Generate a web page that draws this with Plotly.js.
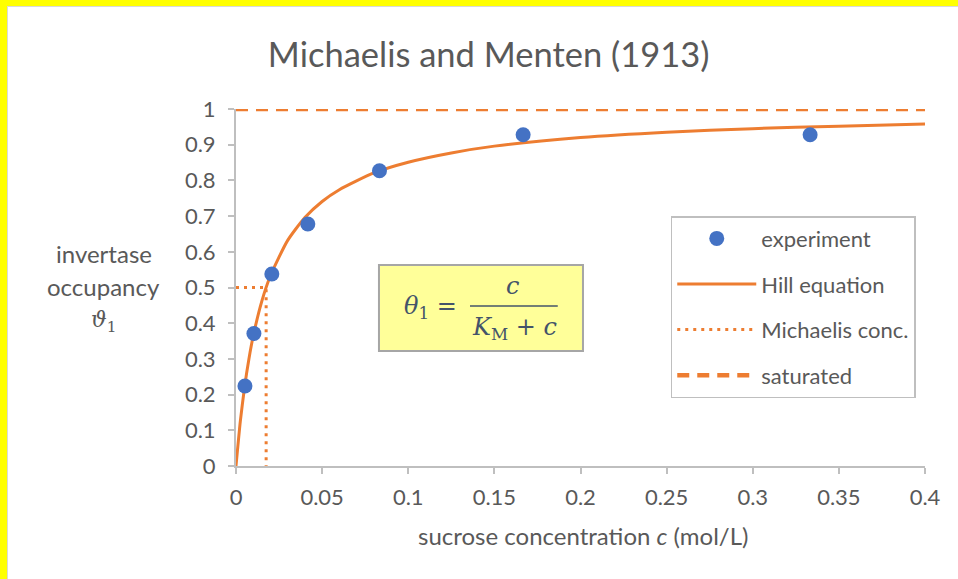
<!DOCTYPE html>
<html>
<head>
<meta charset="utf-8">
<script src="https://cdn.plot.ly/plotly-3.0.1.min.js"></script>
<style>
  html, body { margin: 0; padding: 0; background: #FFFF00; width: 958px; height: 579px; overflow: hidden; }
  #chart { position: absolute; left: 7px; top: 6px; width: 950px; height: 572px; background: #fff;
           border-left: 1px solid #d9d9d9; border-top: 1px solid #d9d9d9; }
</style>
</head>
<body>
<div id="chart"></div>
<script>
// experiment: sucrose concentration (mol/L) and invertase occupancy
const expConc = [0.0052, 0.0104, 0.0208, 0.0417, 0.0833, 0.1667, 0.3333];
const expOcc  = [0.224, 0.371, 0.538, 0.678, 0.827, 0.928, 0.928];

// Hill equation curve
const hillConc = [0, 0.0025, 0.005, 0.0075, 0.01, 0.015, 0.02, 0.03, 0.04, 0.05, 0.06, 0.08, 0.1, 0.125, 0.15, 0.2, 0.25, 0.3, 0.35, 0.4];
const hillOcc  = [0, 0.125, 0.222, 0.300, 0.364, 0.462, 0.533, 0.632, 0.696, 0.741, 0.774, 0.821, 0.851, 0.877, 0.896, 0.920, 0.935, 0.945, 0.952, 0.958];

// Michaelis concentration guide
const michConc = [0, 0.0175, 0.0175];
const michOcc  = [0.5, 0.5, 0];

// saturated level
const satConc = [0, 0.4];
const satOcc  = [1, 1];

const xTicks = [0, 0.05, 0.1, 0.15, 0.2, 0.25, 0.3, 0.35, 0.4];
const xTickText = ['0', '0.05', '0.1', '0.15', '0.2', '0.25', '0.3', '0.35', '0.4'];
const yTicks = [0, 0.1, 0.2, 0.3, 0.4, 0.5, 0.6, 0.7, 0.8, 0.9, 1];
const yTickText = ['0', '0.1', '0.2', '0.3', '0.4', '0.5', '0.6', '0.7', '0.8', '0.9', '1'];

const ORANGE = '#ED7D31';
const BLUE = '#4472C4';
const TEXT = '#595959';
const AXIS = '#BFBFBF';
const FONT = 'Lato, "Open Sans", sans-serif';

const traces = [
  { x: satConc, y: satOcc, mode: 'lines', name: 'saturated', legendgroup: 'd', legendrank: 4,
    line: { color: ORANGE, width: 4.5, dash: '12px,8px' }, cliponaxis: false },
  { x: michConc, y: michOcc, mode: 'lines', name: 'Michaelis conc.', legendgroup: 'c', legendrank: 3,
    line: { color: ORANGE, width: 3, dash: '3px,5px' } },
  { x: hillConc, y: hillOcc, mode: 'lines', name: 'Hill equation', legendgroup: 'b', legendrank: 2,
    line: { color: ORANGE, width: 3, shape: 'spline', smoothing: 0.6 } },
  { x: expConc, y: expOcc, mode: 'markers', name: 'experiment', legendgroup: 'a', legendrank: 1,
    marker: { color: BLUE, size: 15 }, cliponaxis: false }
];

const layout = {
  width: 950, height: 572,
  margin: { l: 228, r: 33, t: 102, b: 113 },
  paper_bgcolor: '#ffffff', plot_bgcolor: '#ffffff',
  font: { family: FONT, color: TEXT, size: 22 },
  showlegend: true,
  title: { text: 'Michaelis and Menten (1913)', font: { size: 34.5, color: TEXT, family: FONT },
           xref: 'container', x: 0.506, xanchor: 'center', yref: 'container', y: 0.916, yanchor: 'middle' },
  xaxis: {
    range: [0, 0.4], tickmode: 'array', tickvals: xTicks, ticktext: xTickText,
    showgrid: false, zeroline: false, showline: true, linecolor: AXIS, linewidth: 2,
    ticks: 'outside', ticklen: 6, tickwidth: 2, tickcolor: AXIS, ticklabelstandoff: 5,
    tickfont: { size: 22, color: TEXT }, fixedrange: true
  },
  yaxis: {
    range: [0, 1], tickmode: 'array', tickvals: yTicks, ticktext: yTickText,
    showgrid: false, zeroline: false, showline: true, linecolor: AXIS, linewidth: 2,
    ticks: 'outside', ticklen: 6, tickwidth: 2, tickcolor: AXIS, ticklabelstandoff: 8,
    tickfont: { size: 22, color: TEXT }, fixedrange: true
  },
  legend: {
    x: 0.631, y: 0.700, xanchor: 'left', yanchor: 'top',
    bgcolor: '#ffffff', bordercolor: AXIS, borderwidth: 1.5,
    font: { size: 22, color: TEXT, family: FONT },
    traceorder: 'grouped', tracegroupgap: 14, itemwidth: 79, entrywidth: 232
  },
  shapes: [
    { type: 'rect', xref: 'paper', yref: 'paper', x0: 0.2075, x1: 0.5036, y0: 0.322, y1: 0.563,
      fillcolor: '#FFFF99', line: { color: '#A6A6A6', width: 2 }, layer: 'above' },
    { type: 'line', xref: 'paper', yref: 'paper', x0: 0.3396, x1: 0.467, y0: 0.448, y1: 0.448,
      line: { color: '#44546A', width: 1.5 }, layer: 'above' }
  ],
  annotations: [
    { xref: 'paper', yref: 'paper', x: 0.283, y: 0.443, xanchor: 'center', yanchor: 'middle', showarrow: false,
      text: '<i>θ</i><sub>1</sub> =', font: { family: '"DejaVu Serif", serif', size: 24, color: '#44546A' } },
    { xref: 'paper', yref: 'paper', x: 0.402, y: 0.505, xanchor: 'center', yanchor: 'middle', showarrow: false,
      text: '<i>c</i>', font: { family: '"DejaVu Serif", serif', size: 24, color: '#44546A' } },
    { xref: 'paper', yref: 'paper', x: 0.404, y: 0.386, xanchor: 'center', yanchor: 'middle', showarrow: false,
      text: '<i>K</i><sub>M</sub> + <i>c</i>', font: { family: '"DejaVu Serif", serif', size: 24, color: '#44546A' } },
    { xref: 'paper', yref: 'paper', x: -0.1916, y: 0.594, xanchor: 'center', yanchor: 'middle', showarrow: false,
      text: 'invertase', font: { size: 24, color: TEXT } },
    { xref: 'paper', yref: 'paper', x: -0.1916, y: 0.502, xanchor: 'center', yanchor: 'middle', showarrow: false,
      text: 'occupancy', font: { size: 24, color: TEXT } },
    { xref: 'paper', yref: 'paper', x: -0.1916, y: 0.405, xanchor: 'center', yanchor: 'middle', showarrow: false,
      text: '<i>ϑ</i><sub>1</sub>', font: { size: 22, color: TEXT, family: '"DejaVu Serif", serif' } },
    { xref: 'paper', yref: 'paper', x: 0.503, y: -0.195, xanchor: 'center', yanchor: 'middle', showarrow: false,
      text: 'sucrose concentration <i>c</i> (mol/L)', font: { size: 24, color: TEXT } }
  ]
};

Plotly.newPlot('chart', traces, layout, { staticPlot: true, displayModeBar: false });
</script>
</body>
</html>
